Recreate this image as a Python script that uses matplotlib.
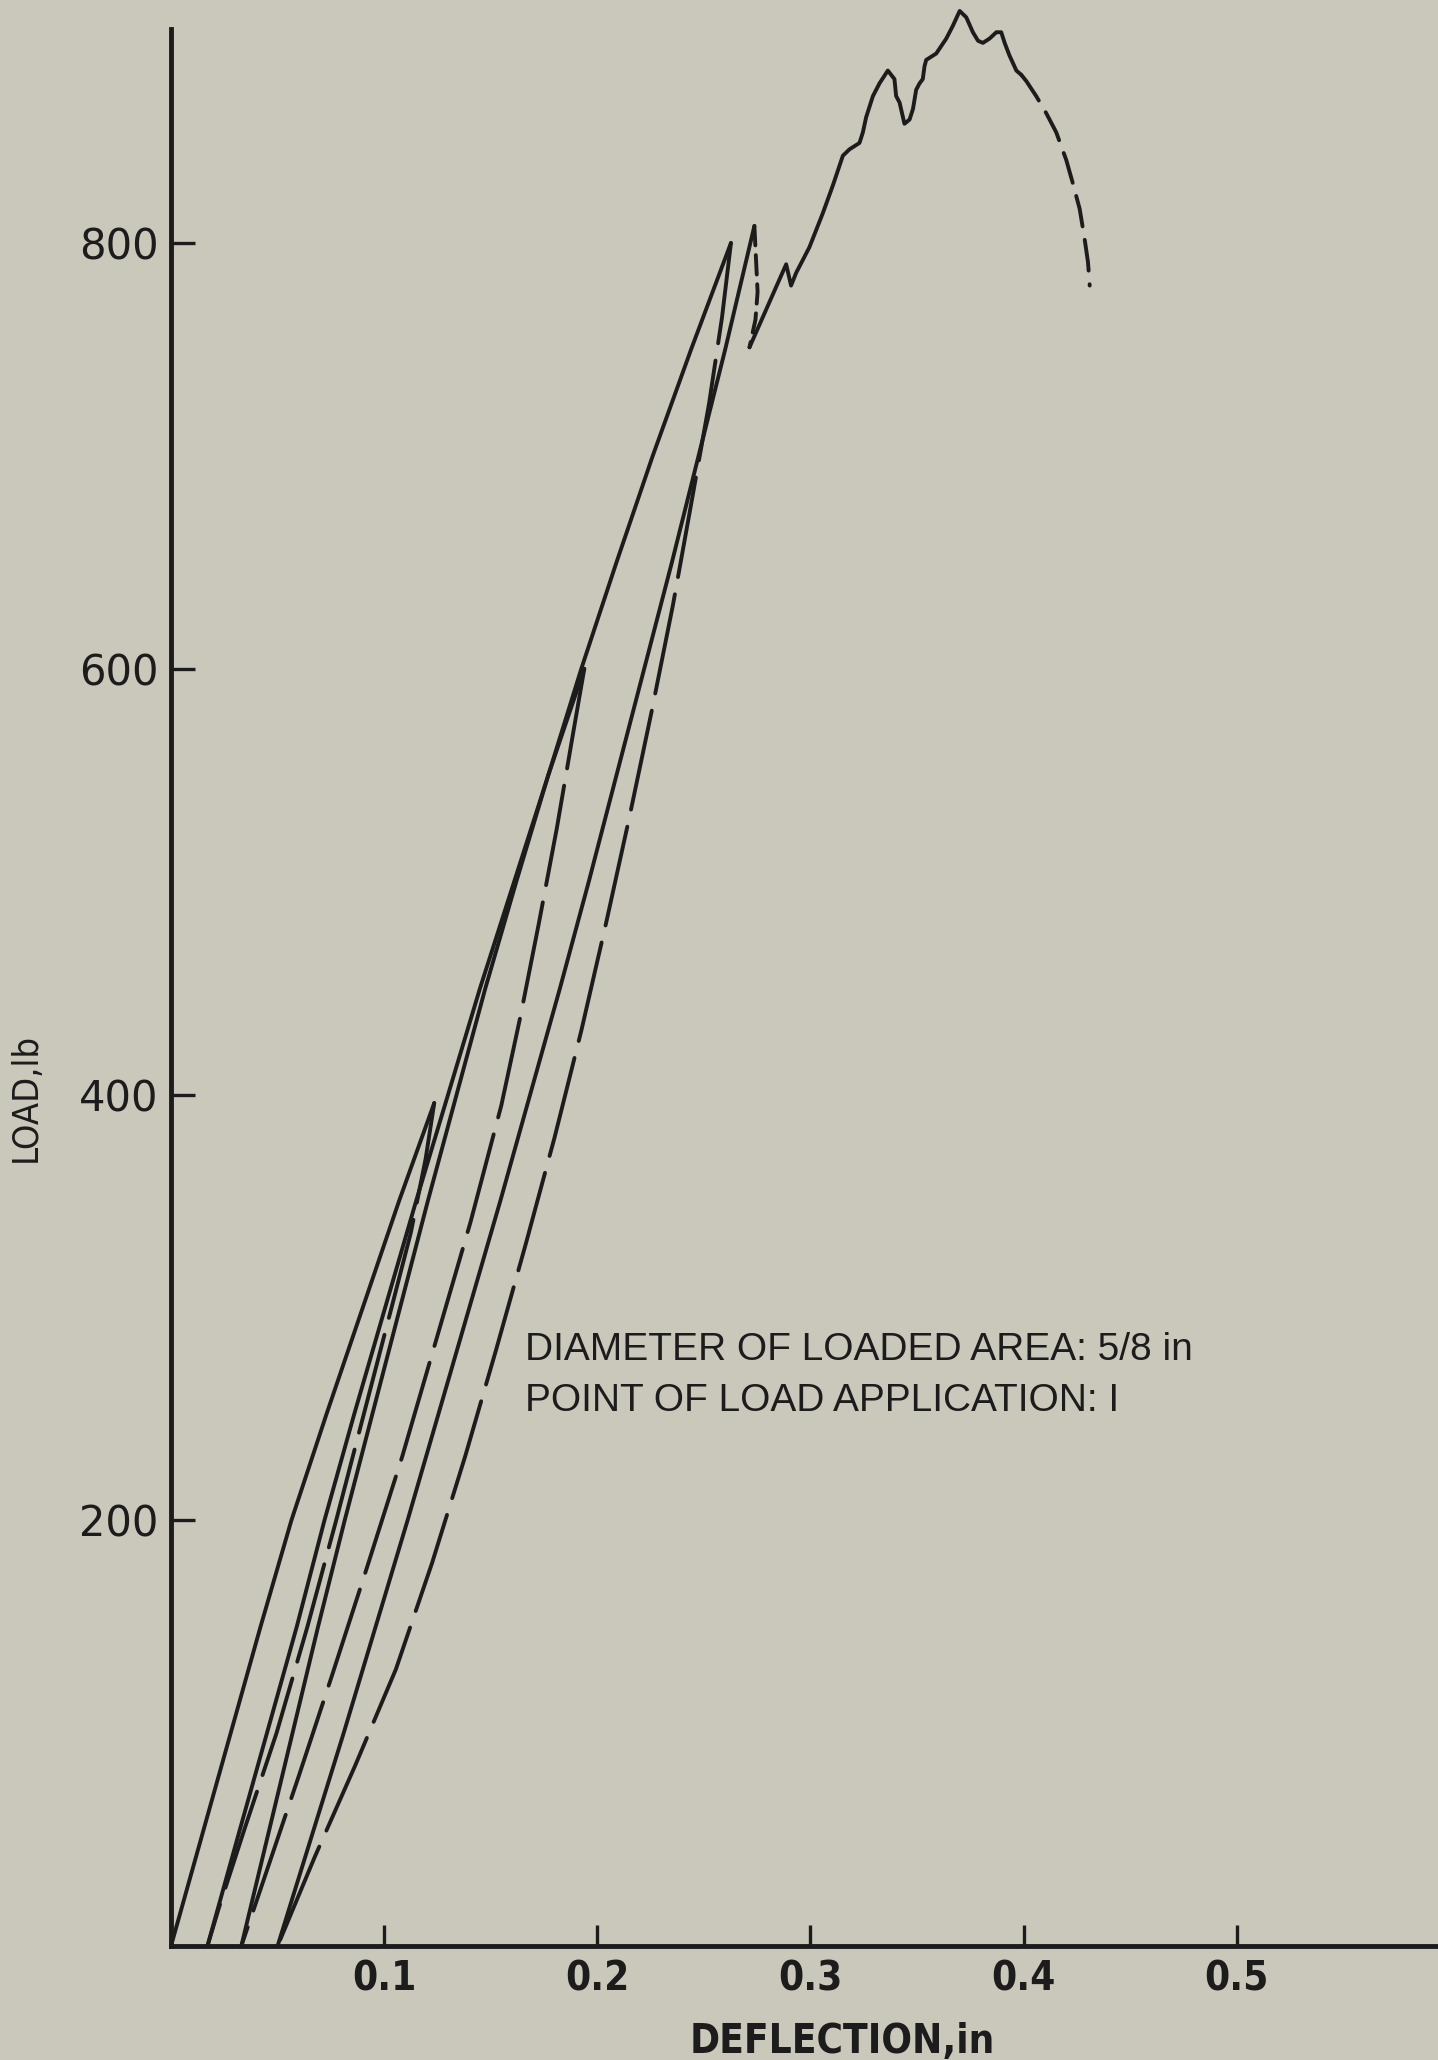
import matplotlib.pyplot as plt

# deflection (in) / load (lb), one list pair per branch

# cycle 1: first loading to ~400 lb and unloading
c1_load_x = [0.0, 0.014, 0.028, 0.042, 0.0565, 0.073, 0.090, 0.107, 0.1235]
c1_load_y = [0, 50, 100, 150, 200, 250, 300, 350, 396]
c1_unload_x = [0.1235, 0.1195, 0.1125, 0.1035, 0.0905, 0.0775, 0.064, 0.0495, 0.0345, 0.0225, 0.0171]
c1_unload_y = [396, 370, 335, 300, 250, 200, 150, 100, 55, 18, 0]

# cycle 2: reload to 600 lb and unload
c2_load_x = [0.0171, 0.031, 0.045, 0.059, 0.072, 0.086, 0.1005, 0.115, 0.130, 0.145, 0.161, 0.177, 0.1939]
c2_load_y = [0, 50, 100, 150, 200, 250, 300, 350, 400, 450, 500, 550, 600]
c2_unload_x = [0.1939, 0.1887, 0.181, 0.1725, 0.164, 0.155, 0.1405, 0.1245, 0.1085, 0.092,
               0.0755, 0.060, 0.0465, 0.033]
c2_unload_y = [600, 570, 525, 480, 437, 395, 340, 285, 230, 178, 127, 80, 40, 0]

# cycle 3: reload to 800 lb and unload
c3_load_x = [0.033, 0.045, 0.057, 0.069, 0.0815, 0.0945, 0.1075, 0.1205, 0.134, 0.1475,
             0.162, 0.177, 0.1925, 0.209, 0.226, 0.244, 0.2627]
c3_load_y = [0, 50, 100, 150, 200, 250, 300, 350, 400, 450, 500, 550, 600, 650, 700, 750, 800]
c3_unload_x = [0.2627, 0.2585, 0.2525, 0.2445, 0.2355, 0.2255, 0.215, 0.204, 0.1925, 0.180,
               0.1665, 0.1525, 0.138, 0.1225, 0.1055, 0.0865, 0.0675, 0.050]
c3_unload_y = [800, 765, 725, 680, 630, 580, 530, 480, 430, 380, 330, 280, 230, 180, 130, 85, 42, 0]

# cycle 4: reload to failure
c4_load_x = [0.050, 0.0655, 0.081, 0.096, 0.111, 0.1255, 0.140, 0.1545, 0.1685, 0.1825,
             0.196, 0.209, 0.222, 0.235, 0.2475, 0.260, 0.2737]
c4_load_y = [0, 50, 100, 150, 200, 250, 300, 350, 400, 450, 500, 550, 600, 650, 700, 750, 808]
c4_drop_x = [0.2737, 0.2752, 0.2742, 0.2714]
c4_drop_y = [808, 777, 764, 751]
c4_rise_x = [0.2714, 0.2886, 0.2909, 0.2933, 0.2995, 0.3058, 0.3105, 0.3152, 0.3183, 0.3230,
             0.3246, 0.3261, 0.3293, 0.3324, 0.3363, 0.3394, 0.3402, 0.3418, 0.3441, 0.3465,
             0.3481, 0.3496, 0.3512, 0.3527, 0.3535, 0.3543, 0.3590, 0.3637, 0.3668, 0.3700,
             0.3731, 0.3762, 0.3786, 0.3809, 0.3840, 0.3872, 0.3895, 0.3911, 0.3934, 0.3966, 0.3989]
c4_rise_y = [751, 790, 780, 786, 798, 814, 827, 841, 844, 847,
             852, 859, 869, 875, 881, 877, 869, 866, 856, 858,
             863, 872, 875, 877, 883, 886, 889, 896, 902, 909,
             906, 899, 895, 894, 896, 899, 899, 894, 888, 881, 879]
c4_fall_x = [0.3989, 0.4013, 0.4059, 0.4106, 0.4153, 0.4200, 0.4231, 0.4263, 0.4286, 0.4302, 0.4310]
c4_fall_y = [879, 876, 869, 861, 852, 839, 828, 816, 802, 791, 780]

x_ticks = [0.1, 0.2, 0.3, 0.4, 0.5]
x_ticklabels = ['0.1', '0.2', '0.3', '0.4', '0.5']
y_ticks = [200, 400, 600, 800]

paper = '#cac8ba'
ink = '#1c1c1c'
lw = 2.8
narrow = dict(fontfamily='DejaVu Sans', fontstretch='condensed')

fig = plt.figure(figsize=(14.38, 20.6), dpi=100, facecolor=paper)
ax = fig.add_axes([0.1189, 0.0553, 0.8811, 0.9306])
ax.set_facecolor(paper)


def trace(x, y, dashes=None):
    line, = ax.plot(x, y, color=ink, lw=lw, solid_capstyle='round',
                    dash_capstyle='round', solid_joinstyle='round', clip_on=False)
    if dashes:
        line.set_dashes(dashes)


long_dash = (26, 4.5)
short_dash = (8, 3.5)

trace(c1_load_x, c1_load_y)
trace(c1_unload_x, c1_unload_y, long_dash)
trace(c2_load_x, c2_load_y)
trace(c2_unload_x, c2_unload_y, long_dash)
trace(c3_load_x, c3_load_y)
trace(c3_unload_x, c3_unload_y, long_dash)
trace(c4_load_x, c4_load_y)
trace(c4_drop_x, c4_drop_y, (5, 2.5))
trace(c4_rise_x, c4_rise_y)
trace(c4_fall_x, c4_fall_y, short_dash)

ax.set_xlim(0, 0.5944)
ax.set_ylim(0, 900.5)

for s in ['top', 'right']:
    ax.spines[s].set_visible(False)
for s in ['left', 'bottom']:
    ax.spines[s].set_linewidth(3.5)
    ax.spines[s].set_color(ink)

ax.set_xticks(x_ticks)
ax.set_xticklabels(x_ticklabels, fontsize=29, fontweight='bold', color=ink, **narrow)
ax.set_yticks(y_ticks)
ax.set_yticklabels([str(v) for v in y_ticks], fontfamily='DejaVu Sans', fontsize=30, color=ink)
ax.tick_params(axis='x', direction='in', length=15, width=2.4, pad=10, colors=ink)
ax.tick_params(axis='y', direction='in', length=17, width=2.4, pad=9, colors=ink)

fig.text(0.5855, 0.0034, 'DEFLECTION,in', ha='center', va='baseline',
         fontsize=29, fontweight='bold', color=ink, **narrow)
fig.text(0.018, 0.4675, 'LOAD,lb', ha='center', va='center', rotation=90,
         fontsize=26, color=ink, **narrow)

ax.text(0.1662, 280, 'DIAMETER OF LOADED AREA: 5/8 in', ha='left', va='center',
        fontfamily='Liberation Sans', fontsize=28, color=ink)
ax.text(0.1662, 256, 'POINT OF LOAD APPLICATION: I', ha='left', va='center',
        fontfamily='Liberation Sans', fontsize=28, color=ink)

fig.savefig('out.png', dpi=100, facecolor=paper)
